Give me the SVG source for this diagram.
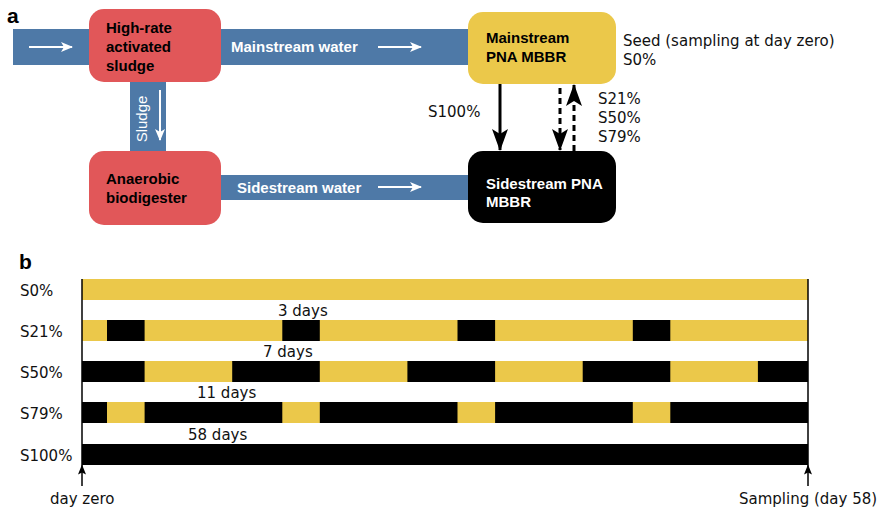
<svg xmlns="http://www.w3.org/2000/svg" width="877" height="509" viewBox="0 0 877 509">
<style>
.box{font-family:"Liberation Sans",Arial,sans-serif;font-weight:bold;font-size:15px}
.lbl{font-family:"DejaVu Sans",Verdana,sans-serif;font-size:15px;fill:#111}
.flow{font-family:"Liberation Sans",Arial,sans-serif;font-weight:bold;font-size:15px;fill:#fff}
.pane{font-family:"Liberation Sans",Arial,sans-serif;font-weight:bold;font-size:21px;fill:#000}
.band{fill:#4e79a7}
.wa{stroke:#fff;stroke-width:2;fill:none}
.y{fill:#ebc84a}
.k{fill:#000}
</style>
<defs>
<marker id="wh" markerWidth="12" markerHeight="10" refX="11" refY="5" orient="auto" markerUnits="userSpaceOnUse">
<path d="M0,0 L12,5 L0,10 L3,5 Z" fill="#fff"/>
</marker>
<marker id="bh" markerWidth="22" markerHeight="16" refX="21" refY="8" orient="auto" markerUnits="userSpaceOnUse" viewBox="0 0 22 16">
<path d="M0,0 L22,8 L0,16 L5,8 Z" fill="#000"/>
</marker>
<marker id="sh" markerWidth="10" markerHeight="8" refX="9.5" refY="4" orient="auto" markerUnits="userSpaceOnUse" viewBox="0 0 10 8">
<path d="M0,0 L10,4 L0,8 L2,4 Z" fill="#000"/>
</marker>
</defs>

<text class="pane" x="7" y="23">a</text>
<text class="pane" x="19" y="269">b</text>

<g id="flows">
<rect class="band" x="13" y="29" width="460" height="36"/>
<rect class="band" x="130" y="80" width="36" height="74"/>
<rect class="band" x="218" y="175" width="255" height="25"/>
<line class="wa" x1="29" y1="47" x2="72" y2="47" marker-end="url(#wh)"/>
<line class="wa" x1="160" y1="90" x2="160" y2="140" marker-end="url(#wh)"/>
<line class="wa" x1="378" y1="47" x2="421" y2="47" marker-end="url(#wh)"/>
<line class="wa" x1="378" y1="187" x2="421" y2="187" marker-end="url(#wh)"/>
<text class="flow" x="231" y="52">Mainstream water</text>
<text class="flow" x="237" y="193">Sidestream water</text>
<text x="147" y="119" transform="rotate(-90 147 119)" text-anchor="middle" style="font-family:'Liberation Sans',Arial,sans-serif;font-size:15px;fill:#fff">Sludge</text>
</g>

<g id="hras">
<rect x="89" y="9" width="132" height="73" rx="15" fill="#e15759"/>
<text class="box" x="106" y="33">High-rate</text>
<text class="box" x="106" y="52">activated</text>
<text class="box" x="106" y="71">sludge</text>
</g>
<g id="digester">
<rect x="89" y="151" width="132" height="74" rx="15" fill="#e15759"/>
<text class="box" x="106" y="184">Anaerobic</text>
<text class="box" x="106" y="203">biodigester</text>
</g>
<g id="mainstream">
<rect x="468" y="12" width="148" height="72" rx="15" fill="#ebc84a"/>
<text class="box" x="486" y="43">Mainstream</text>
<text class="box" x="486" y="62">PNA MBBR</text>
</g>
<g id="sidestream">
<rect x="468" y="151" width="148" height="72" rx="15" fill="#000"/>
<text class="box" x="486" y="189" fill="#fff">Sidestream PNA</text>
<text class="box" x="486" y="207" fill="#fff">MBBR</text>
</g>

<g id="connectors">
<line x1="500" y1="84" x2="500" y2="150" stroke="#000" stroke-width="3" marker-end="url(#bh)"/>
<line x1="560" y1="88" x2="560" y2="150" stroke="#000" stroke-width="3" stroke-dasharray="6,4" marker-end="url(#bh)"/>
<line x1="574" y1="151" x2="574" y2="85" stroke="#000" stroke-width="3" stroke-dasharray="6,4" marker-end="url(#bh)"/>
</g>
<text class="lbl" x="428" y="117">S100%</text>
<text class="lbl" x="598" y="104">S21%</text>
<text class="lbl" x="598" y="123">S50%</text>
<text class="lbl" x="598" y="142">S79%</text>
<text class="lbl" x="623" y="46">Seed (sampling at day zero)</text>
<text class="lbl" x="623" y="65">S0%</text>

<g id="timeline">
<text class="lbl" x="20" y="296">S0%</text>
<text class="lbl" x="20" y="337">S21%</text>
<text class="lbl" x="20" y="378">S50%</text>
<text class="lbl" x="20" y="419">S79%</text>
<text class="lbl" x="20" y="461">S100%</text>

<rect class="y" x="82" y="279" width="726" height="21"/>

<rect class="y" x="82" y="320" width="726" height="21"/>
<rect class="k" x="107" y="320" width="37.6" height="21"/>
<rect class="k" x="282.3" y="320" width="37.5" height="21"/>
<rect class="k" x="457.5" y="320" width="37.6" height="21"/>
<rect class="k" x="632.8" y="320" width="37.5" height="21"/>

<rect class="k" x="82" y="361" width="726" height="21"/>
<rect class="y" x="144.6" y="361" width="87.6" height="21"/>
<rect class="y" x="319.8" y="361" width="87.6" height="21"/>
<rect class="y" x="495.1" y="361" width="87.6" height="21"/>
<rect class="y" x="670.3" y="361" width="87.6" height="21"/>

<rect class="k" x="82" y="402" width="726" height="21"/>
<rect class="y" x="107" y="402" width="37.6" height="21"/>
<rect class="y" x="282.3" y="402" width="37.5" height="21"/>
<rect class="y" x="457.5" y="402" width="37.6" height="21"/>
<rect class="y" x="632.8" y="402" width="37.5" height="21"/>

<rect class="k" x="82" y="444" width="726" height="21"/>

<text class="lbl" x="278" y="316">3 days</text>
<text class="lbl" x="263" y="357">7 days</text>
<text class="lbl" x="197" y="398">11 days</text>
<text class="lbl" x="188" y="440">58 days</text>

<line x1="82" y1="279" x2="82" y2="465" stroke="#000" stroke-width="1.5"/>
<line x1="808" y1="279" x2="808" y2="465" stroke="#000" stroke-width="1.5"/>
<line x1="82" y1="486" x2="82" y2="465" stroke="#000" stroke-width="1.5" marker-end="url(#sh)"/>
<line x1="808" y1="486" x2="808" y2="465" stroke="#000" stroke-width="1.5" marker-end="url(#sh)"/>
<text class="lbl" x="50" y="504">day zero</text>
<text class="lbl" x="739" y="504">Sampling (day 58)</text>
</g>
</svg>
